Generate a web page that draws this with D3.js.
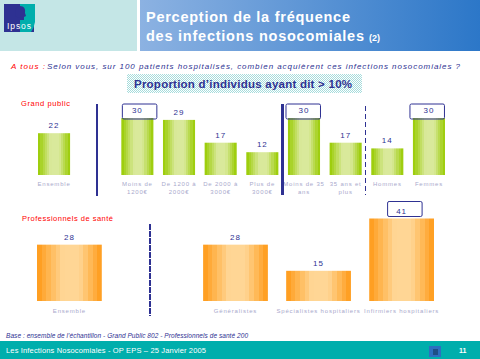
<!DOCTYPE html>
<html>
<head>
<meta charset="utf-8">
<script src="https://cdn.jsdelivr.net/npm/d3@7"></script>
<style>
  html, body { margin: 0; padding: 0; background: #fff; }
  svg { display: block; }
  text { font-family: "Liberation Sans", Arial, sans-serif; }
</style>
</head>
<body>
<svg id="chart" width="480" height="359"></svg>
<script>
// ---- data
const publicCategories = [
  ["Ensemble"], [], ["Moins de", "1200€"], ["De 1200 à", "2000€"], ["De 2000 à", "3000€"],
  ["Plus de", "3000€"], ["Moins de 35", "ans"], ["35 ans et", "plus"], ["Hommes"], ["Femmes"]
];
const publicValues = [22, null, 30, 29, 17, 12, 30, 17, 14, 30];
const publicBoxed = [2, 6, 9];

const proCategories = [["Ensemble"], [], ["Généralistes"], ["Spécialistes hospitaliers"], ["Infirmiers hospitaliers"]];
const proValues = [28, null, 28, 15, 41];
const proBoxed = [4];

const navy = "#2e3192";
const svg = d3.select("#chart");
const defs = svg.append("defs");

/**
 * Horizontal banded gradient, like the stepped fill of the original bars
 */
function addGradient(id, edge, middle) {
  const color = d3.scaleLinear().domain([0, 0.4, 0.65, 1]).range([edge, middle, middle, edge]);
  const steps = 14;
  const grad = defs.append("linearGradient").attr("id", id);
  d3.range(steps).forEach((i) => {
    const c = color((i + 0.5) / steps);
    grad.append("stop").attr("offset", i / steps).attr("stop-color", c);
    grad.append("stop").attr("offset", (i + 1) / steps).attr("stop-color", c);
  });
}
addGradient("greenBar", "#98cb00", "#d9e99b");
addGradient("orangeBar", "#ff9a17", "#ffd695");

const headGrad = defs.append("linearGradient").attr("id", "headBlue");
headGrad.append("stop").attr("offset", 0).attr("stop-color", "#8cb2e2");
headGrad.append("stop").attr("offset", 1).attr("stop-color", "#2c77c8");

const dots = defs.append("pattern").attr("id", "dots")
  .attr("width", 2).attr("height", 2).attr("patternUnits", "userSpaceOnUse");
dots.append("rect").attr("width", 2).attr("height", 2).attr("fill", "#fff");
dots.append("rect").attr("width", 1).attr("height", 1).attr("fill", "#a6dcdc");
dots.append("rect").attr("x", 1).attr("y", 1).attr("width", 1).attr("height", 1).attr("fill", "#a6dcdc");

// ---- header
svg.append("rect").attr("width", 137).attr("height", 51).attr("fill", "#c4e6e6");
svg.append("rect").attr("x", 140).attr("width", 340).attr("height", 51).attr("fill", "url(#headBlue)");

// logo
svg.append("rect").attr("x", 4).attr("y", 4).attr("width", 30).attr("height", 28).attr("fill", "#2e3192");
svg.append("path").attr("d", "M20 4H35V22Q34 28 31 32H20Z").attr("fill", "#00aeac");
svg.append("path").attr("d", "M15 13Q15 6 20 6Q26 6 25 13L26 16L24 17V20H20V17Q15 18 15 13Z").attr("fill", "#2e3192");
svg.append("text").attr("x", 7).attr("y", 29).attr("font-size", 8.5).attr("fill", "#fff")
  .attr("textLength", 24).attr("lengthAdjust", "spacing").text("Ipsos");

const titleLines = [
  { text: "Perception de la fréquence", y: 22, len: 204 },
  { text: "des infections nosocomiales", y: 41, len: 218 }
];
svg.selectAll(".title").data(titleLines).join("text")
  .attr("class", "title")
  .attr("x", 146).attr("y", (d) => d.y)
  .attr("font-size", 14.5).attr("font-weight", "bold").attr("fill", "#fff")
  .attr("textLength", (d) => d.len).attr("lengthAdjust", "spacing")
  .text((d) => d.text);
svg.append("text").attr("x", 369).attr("y", 41).attr("font-size", 9).attr("font-weight", "bold")
  .attr("fill", "#fff").text("(2)");

// ---- question and subtitle
svg.append("text").attr("x", 11).attr("y", 69).attr("font-size", 8).attr("font-style", "italic")
  .attr("fill", "#ff0000").attr("textLength", 34).attr("lengthAdjust", "spacing").text("A tous :");
svg.append("text").attr("x", 47).attr("y", 69).attr("font-size", 8).attr("font-style", "italic")
  .attr("fill", navy).attr("textLength", 413).attr("lengthAdjust", "spacing")
  .text("Selon vous, sur 100 patients hospitalisés, combien acquièrent ces infections nosocomiales ?");

svg.append("rect").attr("x", 127).attr("y", 74).attr("width", 235).attr("height", 19).attr("fill", "url(#dots)");
svg.append("text").attr("x", 134).attr("y", 88).attr("font-size", 11.5).attr("font-weight", "bold")
  .attr("fill", navy).attr("textLength", 218).attr("lengthAdjust", "spacing")
  .text("Proportion d’individus ayant dit > 10%");

/**
 * Draws one group of bars with its value labels, boxes and category labels
 */
function drawGroup(cfg) {
  const g = svg.append("g");
  const slots = d3.range(cfg.values.length);
  const x = d3.scaleBand().domain(slots).range(cfg.xRange).paddingInner(cfg.padding).paddingOuter(0);
  const y = d3.scaleLinear().domain([0, cfg.maxValue]).range([cfg.baseline, cfg.top]);
  const shown = slots.filter((i) => cfg.values[i] !== null);

  g.selectAll("rect.bar").data(shown).join("rect")
    .attr("class", "bar")
    .attr("x", (i) => x(i))
    .attr("y", (i) => y(cfg.values[i]))
    .attr("width", x.bandwidth())
    .attr("height", (i) => cfg.baseline - y(cfg.values[i]))
    .attr("fill", `url(#${cfg.gradient})`);

  g.selectAll("text.value").data(shown).join("text")
    .attr("class", "value")
    .attr("x", (i) => x(i) + x.bandwidth() / 2)
    .attr("y", (i) => y(cfg.values[i]) - 5)
    .attr("text-anchor", "middle").attr("font-size", 8).attr("fill", navy)
    .attr("letter-spacing", 1)
    .text((i) => cfg.values[i]);

  // the boxes sit a little off centre in the original
  g.selectAll("rect.box").data(cfg.boxed).join("rect")
    .attr("class", "box")
    .attr("x", (i, k) => x(i) + x.bandwidth() / 2 - 17 + cfg.boxShift[k])
    .attr("y", (i) => y(cfg.values[i]) + cfg.boxY)
    .attr("width", 34.5).attr("height", 15).attr("rx", 1.5)
    .attr("fill", "none").attr("stroke", navy).attr("stroke-width", 1);

  shown.forEach((i) => {
    g.selectAll(null).data(cfg.categories[i]).join("text")
      .attr("x", x(i) + x.bandwidth() / 2)
      .attr("y", (d, k) => cfg.labelY + k * 8)
      .attr("text-anchor", "middle").attr("font-size", 6).attr("fill", "#a9a9cc")
      .attr("letter-spacing", 0.8)
      .text((d) => d);
  });
}

drawGroup({
  categories: publicCategories, values: publicValues, boxed: publicBoxed,
  xRange: [38, 445], padding: 0.23, maxValue: 30, baseline: 175, top: 118,
  gradient: "greenBar", labelY: 185.5, boxShift: [2, -1, -2], boxY: -14
});
drawGroup({
  categories: proCategories, values: proValues, boxed: proBoxed,
  xRange: [37, 434], padding: 0.22, maxValue: 41, baseline: 301, top: 218.5,
  gradient: "orangeBar", labelY: 312.5, boxShift: [3], boxY: -17
});

// ---- group titles and separators
svg.append("text").attr("x", 21).attr("y", 106).attr("font-size", 7.5).attr("fill", "#ff0000")
  .attr("textLength", 49).attr("lengthAdjust", "spacing").text("Grand public");
svg.append("text").attr("x", 22).attr("y", 221).attr("font-size", 7.5).attr("fill", "#ff0000")
  .attr("textLength", 91).attr("lengthAdjust", "spacing").text("Professionnels de santé");

svg.append("line").attr("x1", 97).attr("x2", 97).attr("y1", 104).attr("y2", 196)
  .attr("stroke", navy).attr("stroke-width", 2);
svg.append("line").attr("x1", 282.5).attr("x2", 282.5).attr("y1", 104).attr("y2", 195)
  .attr("stroke", navy).attr("stroke-width", 3);
svg.append("line").attr("x1", 365.5).attr("x2", 365.5).attr("y1", 106).attr("y2", 195)
  .attr("stroke", navy).attr("stroke-width", 1).attr("stroke-dasharray", "5 3");
svg.append("line").attr("x1", 150).attr("x2", 150).attr("y1", 224).attr("y2", 316)
  .attr("stroke", navy).attr("stroke-width", 2).attr("stroke-dasharray", "6 1");

// ---- base note and footer
svg.append("text").attr("x", 6).attr("y", 337.5).attr("font-size", 6.5).attr("font-style", "italic")
  .attr("fill", navy).attr("textLength", 242).attr("lengthAdjust", "spacing")
  .text("Base : ensemble de l’échantillon - Grand Public 802 - Professionnels de santé 200");

svg.append("rect").attr("y", 341).attr("width", 480).attr("height", 18).attr("fill", "#00aeac");
svg.append("text").attr("x", 6).attr("y", 353).attr("font-size", 7.5).attr("fill", "#fff")
  .attr("textLength", 200).attr("lengthAdjust", "spacing")
  .text("Les Infections Nosocomiales - OP EPS – 25 Janvier 2005");
svg.append("rect").attr("x", 429).attr("y", 346).attr("width", 12).attr("height", 11).attr("fill", "#2c6fc0");
svg.append("rect").attr("x", 433).attr("y", 349).attr("width", 5).attr("height", 6).attr("fill", "#1d4f86");
svg.append("text").attr("x", 459).attr("y", 353).attr("font-size", 7).attr("font-weight", "bold").attr("fill", "#fff").text("11");
</script>
</body>
</html>
